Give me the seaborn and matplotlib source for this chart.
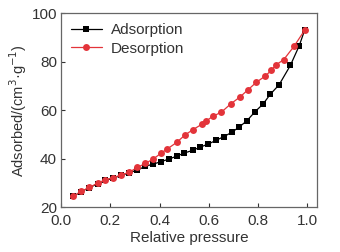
import matplotlib
matplotlib.use("Agg")
import matplotlib.pyplot as plt
import seaborn as sns
import pandas as pd

# adsorption branch
ads_p = [0.05, 0.08, 0.115, 0.148, 0.18, 0.212, 0.245, 0.277, 0.31, 0.342, 0.372, 0.405,
         0.437, 0.47, 0.5, 0.535, 0.564, 0.598, 0.629, 0.662, 0.693, 0.724, 0.756, 0.789,
         0.821, 0.851, 0.886, 0.932, 0.968, 0.99]
ads_v = [24.4, 26.4, 28.0, 29.7, 31.0, 32.0, 33.1, 34.2, 35.3, 36.8, 37.7, 38.7,
         39.8, 41.0, 42.3, 43.4, 44.7, 46.0, 47.5, 49.1, 50.8, 53.0, 55.7, 59.4,
         62.5, 66.6, 70.4, 78.4, 86.5, 92.9]

# desorption branch
des_p = [0.05, 0.08, 0.115, 0.148, 0.18, 0.212, 0.245, 0.277, 0.31, 0.342, 0.375, 0.407,
         0.43, 0.47, 0.503, 0.535, 0.571, 0.591, 0.616, 0.652, 0.69, 0.727, 0.76, 0.794,
         0.828, 0.855, 0.873, 0.905, 0.947, 0.99]
des_v = [24.4, 26.5, 28.1, 29.9, 31.3, 32.2, 33.3, 34.4, 36.4, 38.0, 39.9, 42.3,
         43.9, 46.7, 49.7, 51.9, 54.1, 55.6, 57.4, 59.2, 62.6, 65.4, 68.4, 71.5,
         73.9, 76.4, 78.6, 80.8, 86.3, 92.9]

ads = pd.DataFrame({"p": ads_p, "v": ads_v})
des = pd.DataFrame({"p": des_p, "v": des_v})

sns.set_style("ticks")
plt.rcParams['font.family'] = ['Liberation Sans', 'DejaVu Sans']
plt.rcParams['xtick.direction'] = 'in'
plt.rcParams['ytick.direction'] = 'in'

txt = "#333333"
red = "#e3343a"

fig = plt.figure(figsize=(3.4, 2.52), dpi=100)
ax = fig.add_axes([0.180, 0.178, 0.752, 0.770])

sns.lineplot(data=ads, x="p", y="v", ax=ax, color="black", marker="s", markersize=4,
             markeredgewidth=0, linewidth=0.9, label="Adsorption", sort=False)
sns.lineplot(data=des, x="p", y="v", ax=ax, color=red, marker="o", markersize=5,
             markeredgewidth=0, linewidth=0.9, label="Desorption", sort=False)

ax.set_xlim(0, 1.04)
ax.set_ylim(20, 100)
ax.set_xticks([0.0, 0.2, 0.4, 0.6, 0.8, 1.0])
ax.set_yticks([20, 40, 60, 80, 100])
ax.tick_params(labelsize=11, colors=txt, length=3, width=0.8)
ax.tick_params(axis="x", pad=5)
ax.tick_params(axis="y", pad=3)
for s in ax.spines.values():
    s.set_color("#666666")
    s.set_linewidth(0.9)

ax.set_xlabel("Relative pressure", fontsize=11, color=txt, labelpad=2)
ax.set_ylabel("Adsorbed/(cm$^{3}$·g$^{-1}$)", fontsize=10.5, color=txt, labelpad=2)

leg = ax.legend(loc="upper left", frameon=False, fontsize=11, handlelength=2.0,
                handletextpad=0.6, labelspacing=0.3, borderaxespad=0.25)
for t in leg.get_texts():
    t.set_color(txt)

fig.savefig("out.png", dpi=100)
